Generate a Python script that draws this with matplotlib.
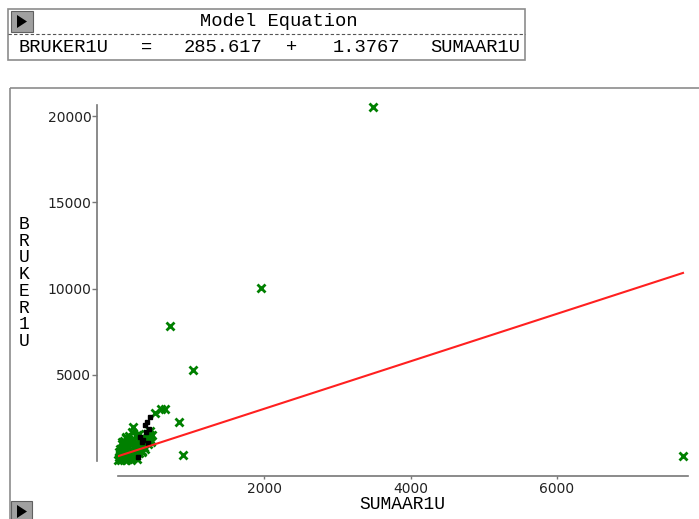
"""
Model equation panel + scatter of BRUKER1U vs SUMAAR1U with fitted line.
"""

import matplotlib
matplotlib.use("Agg")
import matplotlib.pyplot as plt
import matplotlib.patches as patches
import numpy as np

# model
y_name = "BRUKER1U"
x_name = "SUMAAR1U"
intercept = 285.617
slope = 1.3767

# green points (x = SUMAAR1U, y = BRUKER1U)
green_x = [3490, 1960, 720, 1030, 7720, 890, 840, 590, 650, 510, 210, 195,
           10, 30, 50, 70, 90, 100, 120, 140, 60, 80, 110, 150, 160, 180,
           200, 220, 240, 250, 270, 300, 280, 320, 330, 350, 380, 400, 420,
           440, 180, 130, 200, 260, 300, 150, 100, 40, 20, 60, 30, 90, 170,
           230, 290, 360, 410, 450, 120, 250, 310, 190, 70, 140, 340,
           60, 120, 90, 160, 460, 470, 440, 20, 45, 110, 210, 260, 380, 330]
green_y = [20530, 10040, 7840, 5290, 310, 365, 2250, 3010, 3030, 2800, 1990, 1715,
           50, 150, 80, 250, 120, 400, 300, 150, 500, 700, 600, 500, 800, 350,
           600, 900, 750, 1100, 950, 1200, 700, 900, 1400, 1100, 1300, 1600, 1200,
           1500, 1100, 900, 1300, 1500, 1600, 1200, 900, 400, 250, 1000, 700, 1000, 200,
           400, 500, 800, 1000, 1300, 1400, 300, 1000, 50, 850, 1300, 600,
           1100, 1350, 1200, 1450, 1100, 1500, 1750, 550, 600, 100, 200, 150, 700, 550]

# black squares
black_x = [444, 407, 375, 307, 352, 420, 280, 395, 430, 330]
black_y = [2585, 2295, 2100, 1425, 1235, 1045, 270, 1700, 1900, 1100]

x_ticks = [2000, 4000, 6000]
y_ticks = [5000, 10000, 15000, 20000]

W, H = 699, 519
fig = plt.figure(figsize=(W / 100, H / 100), dpi=100)

# background layer in pixel coords
bg = fig.add_axes([0, 0, 1, 1])
bg.set_xlim(0, W)
bg.set_ylim(H, 0)
bg.axis("off")

mono = "Liberation Mono"
gray = "#8c8c8c"

# equation box
bg.add_patch(patches.Rectangle((8, 9), 517, 51, fill=False, ec=gray, lw=1.2))
bg.plot([8, 525], [34, 34], color="#555555", lw=0.8, ls=(0, (3, 2)))
bg.add_patch(patches.Rectangle((11, 11), 22, 21, fc="#a0a0a0", ec="#606060", lw=0.8))
bg.add_patch(patches.Polygon([[17, 15], [17, 28], [27, 21.5]], closed=True, fc="black"))
bg.text(279, 21, "Model Equation", family=mono, fontsize=13.5, ha="center", va="center")
row_y = 47.5
bg.text(18, row_y, y_name, family=mono, fontsize=13.5, ha="left", va="center")
bg.text(147, row_y, "=", family=mono, fontsize=13.5, ha="center", va="center")
bg.text(262, row_y, f"{intercept:.3f}", family=mono, fontsize=13.5, ha="right", va="center")
bg.text(292, row_y, "+", family=mono, fontsize=13.5, ha="center", va="center")
bg.text(400, row_y, f"{slope:.4f}", family=mono, fontsize=13.5, ha="right", va="center")
bg.text(520, row_y, x_name, family=mono, fontsize=13.5, ha="right", va="center")

# plot panel frame + icon
bg.add_patch(patches.Rectangle((10, 88), 720, 460, fill=False, ec=gray, lw=1.2))
bg.add_patch(patches.Rectangle((11, 501), 21, 20, fc="#a0a0a0", ec="#606060", lw=0.8))
bg.add_patch(patches.Polygon([[17, 505], [17, 518], [27, 511.5]], closed=True, fc="black"))

# y axis title, stacked letters
bg.text(24, 283, "\n".join(y_name), family=mono, fontsize=13, ha="center", va="center",
        linespacing=0.98)

# data axes
x_max = (688 - 117.5) / 0.07325
y_max = (461.3 - 105) / 0.01726
ax = fig.add_axes([117.5 / W, (H - 461.3) / H, (688 - 117.5) / W, (461.3 - 105) / H])
ax.set_xlim(0, x_max)
ax.set_ylim(0, y_max)
ax.patch.set_alpha(0)

ax.spines["top"].set_visible(False)
ax.spines["right"].set_visible(False)
ax.spines["left"].set_position(("outward", 14.8))
ax.spines["bottom"].set_position(("outward", 10.6))
for s in ("left", "bottom"):
    ax.spines[s].set_color("#777777")
    ax.spines[s].set_linewidth(1.2)

ax.set_xticks(x_ticks)
ax.set_yticks(y_ticks)
ax.set_xticklabels([str(t) for t in x_ticks])
ax.set_yticklabels([str(t) for t in y_ticks])
ax.tick_params(axis="both", direction="out", color="#777777", width=1.0,
               labelsize=10, labelcolor="#222222")
ax.tick_params(axis="y", length=3.5, pad=0.5)
ax.tick_params(axis="x", length=2.5, pad=2)

ax.set_xlabel(x_name, family=mono, fontsize=13, labelpad=0)

# fitted line
all_x = np.array(green_x + black_x)
line_x = np.array([all_x.min(), all_x.max()])
ax.plot(line_x, intercept + slope * line_x, color="#ff2020", lw=1.5, zorder=3)

ax.plot(green_x, green_y, ls="none", marker="x", color="#008000", ms=6,
        mew=2.0, clip_on=False, zorder=2)
ax.plot(black_x, black_y, ls="none", marker="s", color="black", ms=3.2,
        clip_on=False, zorder=2.5)

fig.savefig("out.png", dpi=100)
